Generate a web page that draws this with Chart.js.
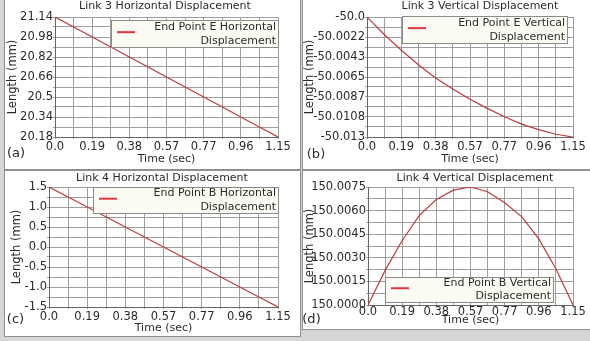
<!DOCTYPE html>
<html>
<head>
<meta charset="utf-8">
<script src="https://cdn.jsdelivr.net/npm/chart.js@4"></script>
<style>
  body { margin: 0; width: 590px; height: 341px; overflow: hidden; background: #d6d6d6; position: relative; }
  canvas { position: absolute; background: #fff; outline: 1px solid #8f8f8f; }
</style>
</head>
<body>
<canvas id="pa" width="295" height="169" style="left:5px;top:0px"></canvas>
<canvas id="pb" width="287" height="169" style="left:303px;top:0px"></canvas>
<canvas id="pc" width="295" height="165" style="left:5px;top:171px"></canvas>
<canvas id="pd" width="287" height="158" style="left:303px;top:171px"></canvas>
<script>
// time samples (sec)
const timeSec = [0.0, 0.096, 0.192, 0.288, 0.383, 0.479, 0.575, 0.671, 0.767, 0.863, 0.958, 1.054, 1.15];
const xTickLabels = ["0.0", "0.19", "0.38", "0.57", "0.77", "0.96", "1.15"];

// (a) link 3 horizontal
const link3Horiz = [21.14, 21.06, 20.98, 20.90, 20.82, 20.74, 20.66, 20.58, 20.50, 20.42, 20.34, 20.26, 20.18];
const link3HorizTicks = ["20.18", "20.34", "20.5", "20.66", "20.82", "20.98", "21.14"];

// (b) link 3 vertical
const link3Vert = [-50.0, -50.0019, -50.0036, -50.0052, -50.0066, -50.0078, -50.0089, -50.0099, -50.0108, -50.0116, -50.0122, -50.0127, -50.013];
const link3VertTicks = ["-50.013", "-50.0108", "-50.0087", "-50.0065", "-50.0043", "-50.0022", "-50.0"];

// (c) link 4 horizontal
const link4Horiz = [1.5, 1.25, 1.0, 0.75, 0.5, 0.25, 0.0, -0.25, -0.5, -0.75, -1.0, -1.25, -1.5];
const link4HorizTicks = ["-1.5", "-1.0", "-0.5", "0.0", "0.5", "1.0", "1.5"];

// (d) link 4 vertical
const link4Vert = [150.0, 150.0022, 150.0041, 150.0057, 150.0067, 150.0073, 150.0075, 150.0072, 150.0065, 150.0056, 150.0042, 150.0023, 150.0];
const link4VertTicks = ["150.0000", "150.0015", "150.0030", "150.0045", "150.0060", "150.0075"];

const FONT = "'DejaVu Sans', sans-serif";
const TXT = "#2b2b2b";
const GRID = "#9e9e9e";

// ticks: one grid line between each labelled tick
function halfTicks(labels) {
  return {
    build: (scale) => {
      const n = (labels.length - 1) * 2;
      const lo = scale.min, hi = scale.max;
      const out = [];
      for (let i = 0; i <= n; i++) out.push({ value: lo + (hi - lo) * i / n });
      scale.ticks = out;
    },
    cb: (v, i) => (i % 2 === 0 ? labels[i / 2] : "")
  };
}

const panelDeco = {
  id: "panelDeco",
  afterDraw(chart, args, o) {
    const ctx = chart.ctx;
    ctx.save();
    ctx.fillStyle = TXT;
    ctx.textBaseline = "middle";
    // title
    ctx.font = "11px " + FONT;
    ctx.textAlign = "center";
    ctx.fillText(o.title, o.titleX, o.titleY);
    // panel letter
    ctx.font = "13px " + FONT;
    ctx.fillText(o.tag, o.tagX, o.tagY);
    // legend box
    const b = o.legend;
    const ds = chart.data.datasets[0];
    ctx.fillStyle = "#fbfbf4";
    ctx.strokeStyle = "#8a8a8a";
    ctx.lineWidth = 1;
    ctx.fillRect(b.x, b.y, b.w, b.h);
    ctx.strokeRect(b.x + 0.5, b.y + 0.5, b.w, b.h);
    ctx.strokeStyle = "#e0353b";
    ctx.lineWidth = 2;
    ctx.beginPath();
    ctx.moveTo(b.x + 6, b.y + b.h * 0.45);
    ctx.lineTo(b.x + 24, b.y + b.h * 0.45);
    ctx.stroke();
    ctx.fillStyle = TXT;
    ctx.font = "11px " + FONT;
    ctx.textAlign = "right";
    const lines = ds.label.split("\n");
    ctx.fillText(lines[0], b.x + b.w - 2, b.y + b.h * 0.25);
    ctx.fillText(lines[1], b.x + b.w - 2, b.y + b.h * 0.78);
    ctx.restore();
  }
};

function makeChart(id, p) {
  const xt = halfTicks(xTickLabels);
  const yt = halfTicks(p.yTicks);
  new Chart(document.getElementById(id), {
    type: "line",
    data: {
      datasets: [{
        label: p.label,
        data: timeSec.map((t, i) => ({ x: t, y: p.values[i] })),
        borderColor: "#bd3a3c",
        borderWidth: 1.2,
        pointRadius: 0,
        tension: 0
      }]
    },
    options: {
      responsive: false,
      animation: false,
      layout: { padding: { left: 0, right: p.padRight, top: p.padTop, bottom: 0 } },
      plugins: {
        legend: { display: false },
        tooltip: { enabled: false },
        panelDeco: p.deco
      },
      scales: {
        x: {
          type: "linear",
          min: 0,
          max: 1.15,
          afterBuildTicks: xt.build,
          afterFit: (s) => { s.height = p.xHeight; },
          ticks: { callback: xt.cb, autoSkip: false, maxRotation: 0, padding: p.xTickPad, color: TXT, font: { family: FONT, size: 11.5 } },
          grid: { color: GRID, tickLength: p.xTickLen, lineWidth: 1 },
          border: { color: "#666" },
          title: { display: true, text: "Time (sec)", color: TXT, padding: p.xTitlePad, font: { family: FONT, size: 11 } }
        },
        y: {
          type: "linear",
          min: parseFloat(p.yTicks[0]),
          max: parseFloat(p.yTicks[p.yTicks.length - 1]),
          afterBuildTicks: yt.build,
          afterFit: (s) => { s.width = p.yWidth; },
          ticks: { callback: yt.cb, autoSkip: false, padding: 0, color: TXT, font: { family: FONT, size: 11.5 } },
          grid: { color: GRID, tickLength: 2, lineWidth: 1 },
          border: { color: "#666" },
          title: { display: true, text: "Length (mm)", color: TXT, padding: p.yTitlePad, font: { family: FONT, size: 11.5 } }
        }
      }
    },
    plugins: [panelDeco]
  });
}

makeChart("pa", {
  label: "End Point E Horizontal\nDisplacement",
  values: link3Horiz, yTicks: link3HorizTicks,
  padRight: 22, padTop: 17, yWidth: 50, xHeight: 32,
  xTickPad: 1, xTickLen: 2, xTitlePad: 3.4, yTitlePad: 1.1,
  deco: { title: "Link 3 Horizontal Displacement", titleX: 160, titleY: 6, tag: "(a)", tagX: 11, tagY: 154,
          legend: { x: 106, y: 20, w: 167, h: 27 } }
});

makeChart("pb", {
  label: "End Point E Vertical\nDisplacement",
  values: link3Vert, yTicks: link3VertTicks,
  padRight: 17, padTop: 17, yWidth: 64, xHeight: 32,
  xTickPad: 1, xTickLen: 2, xTitlePad: 3.4, yTitlePad: 0.4,
  deco: { title: "Link 3 Vertical Displacement", titleX: 177, titleY: 6, tag: "(b)", tagX: 13, tagY: 155,
          legend: { x: 99, y: 16, w: 165, h: 27 } }
});

makeChart("pc", {
  label: "End Point B Horizontal\nDisplacement",
  values: link4Horiz, yTicks: link4HorizTicks,
  padRight: 22, padTop: 16, yWidth: 44, xHeight: 29,
  xTickPad: 1, xTickLen: 2, xTitlePad: 1.4, yTitlePad: 5.1,
  deco: { title: "Link 4 Horizontal Displacement", titleX: 157, titleY: 7, tag: "(c)", tagX: 10.5, tagY: 149,
          legend: { x: 88, y: 16, w: 185, h: 26 } }
});

makeChart("pd", {
  label: "End Point B Vertical\nDisplacement",
  values: link4Vert, yTicks: link4VertTicks,
  padRight: 17, padTop: 16, yWidth: 65, xHeight: 24,
  xTickPad: 0, xTickLen: 0, xTitlePad: 2.4, yTitlePad: 0,
  deco: { title: "Link 4 Vertical Displacement", titleX: 172, titleY: 7, tag: "(d)", tagX: 8.5, tagY: 149,
          legend: { x: 82, y: 106, w: 168, h: 25 } }
});
</script>
</body>
</html>
